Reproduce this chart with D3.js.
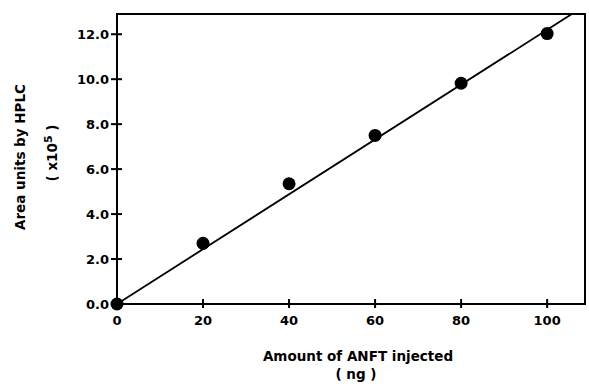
<!DOCTYPE html>
<html>
<head>
<meta charset="utf-8">
<script src="https://cdn.jsdelivr.net/npm/d3@7"></script>
<style>
  body { margin: 0; background: #fff; }
  text { font-family: "DejaVu Sans", sans-serif; font-weight: bold; fill: #000; }
</style>
</head>
<body>
<div id="chart"></div>
<script>
// dati
var amountNg = [0, 20, 40, 60, 80, 100];
var areaUnits = [0, 2.7, 5.35, 7.5, 9.82, 12.03];
var xTicks = [0, 20, 40, 60, 80, 100];
var yTicks = [0, 2, 4, 6, 8, 10, 12];
var fitSlope = 0.122; // retta passante per l'origine

var W = 589, H = 387;
var m = { left: 117, right: 4, top: 14, bottom: 83 };

var svg = d3.select("#chart").append("svg")
  .attr("width", W).attr("height", H);

var x = d3.scaleLinear().domain([0, 108.8]).range([m.left, W - m.right]);
var y = d3.scaleLinear().domain([0, 12.9]).range([H - m.bottom, m.top]);

// clip per la retta
svg.append("clipPath").attr("id", "clip")
  .append("rect")
  .attr("x", m.left).attr("y", m.top)
  .attr("width", W - m.right - m.left).attr("height", H - m.bottom - m.top);

// cornice
svg.append("rect")
  .attr("x", m.left).attr("y", m.top)
  .attr("width", W - m.right - m.left).attr("height", H - m.bottom - m.top)
  .attr("fill", "none").attr("stroke", "#000").attr("stroke-width", 2);

// tacche asse y (attraversano l'asse)
svg.selectAll(".ytick").data(yTicks).enter().append("line")
  .attr("x1", m.left - 6).attr("x2", m.left + 5)
  .attr("y1", function(d) { return y(d); })
  .attr("y2", function(d) { return y(d); })
  .attr("stroke", "#000").attr("stroke-width", 2);
svg.selectAll(".ylab").data(yTicks).enter().append("text")
  .attr("x", m.left - 8)
  .attr("y", function(d) { return y(d); })
  .attr("dy", "0.36em")
  .attr("text-anchor", "end")
  .style("font-size", "13px")
  .text(function(d) { return d.toFixed(1); });

// tacche asse x
svg.selectAll(".xtick").data(xTicks).enter().append("line")
  .attr("x1", function(d) { return x(d); })
  .attr("x2", function(d) { return x(d); })
  .attr("y1", y(0) - 5).attr("y2", y(0) + 4)
  .attr("stroke", "#000").attr("stroke-width", 2);
svg.selectAll(".xlab").data(xTicks).enter().append("text")
  .attr("x", function(d) { return x(d); })
  .attr("y", y(0) + 21)
  .attr("text-anchor", "middle")
  .style("font-size", "13px")
  .text(function(d) { return d; });

// retta
svg.append("line")
  .attr("clip-path", "url(#clip)")
  .attr("x1", x(0)).attr("y1", y(0))
  .attr("x2", x(110)).attr("y2", y(110 * fitSlope))
  .attr("stroke", "#000").attr("stroke-width", 1.8);

// punti
svg.selectAll(".pt").data(amountNg).enter().append("circle")
  .attr("cx", function(d) { return x(d); })
  .attr("cy", function(d, i) { return y(areaUnits[i]); })
  .attr("r", 6.5)
  .attr("fill", "#000");

// titoli assi
svg.append("text")
  .attr("x", 358).attr("y", 361)
  .attr("text-anchor", "middle")
  .style("font-size", "13.5px")
  .text("Amount of ANFT injected");
svg.append("text")
  .attr("x", 356).attr("y", 379)
  .attr("text-anchor", "middle")
  .style("font-size", "13.5px")
  .text("( ng )");

svg.append("text")
  .attr("transform", "translate(25,157) rotate(-90)")
  .attr("text-anchor", "middle")
  .style("font-size", "13.5px")
  .text("Area units by HPLC");
var t2 = svg.append("text")
  .attr("transform", "translate(57,153) rotate(-90)")
  .attr("text-anchor", "middle")
  .style("font-size", "13.5px");
t2.append("tspan").text("( x10");
t2.append("tspan").attr("dy", "-5").style("font-size", "11px").text("5");
t2.append("tspan").attr("dy", "5").text(" )");
</script>
</body>
</html>
